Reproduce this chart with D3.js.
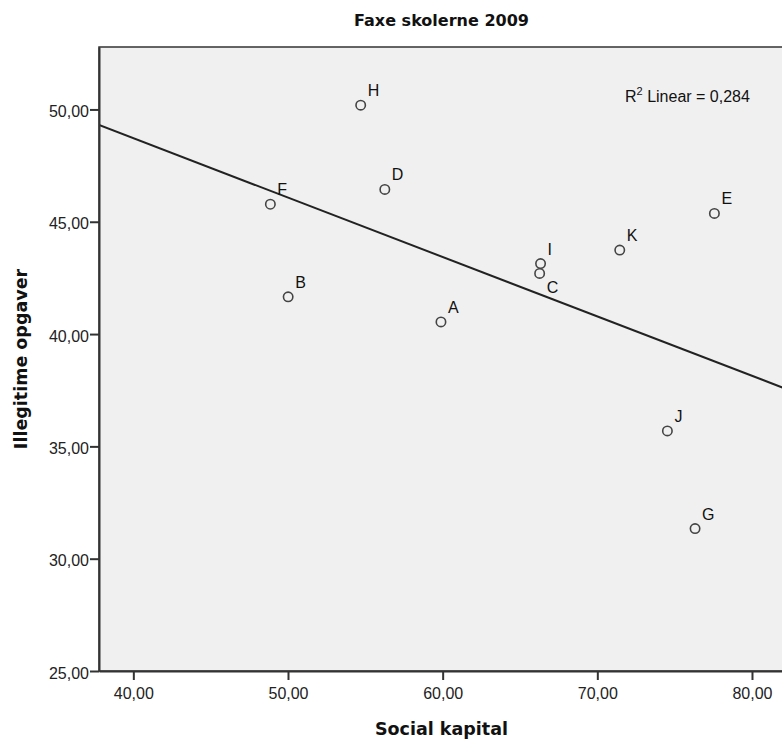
<!DOCTYPE html>
<html>
<head>
<meta charset="utf-8">
<script src="https://cdn.jsdelivr.net/npm/d3@7"></script>
<style>
  body { margin: 0; background: #fff; }
  svg text { font-family: "Liberation Sans", Arial, sans-serif; }
  svg text.title { font-family: "DejaVu Sans", Verdana, sans-serif; font-weight: bold; }
</style>
</head>
<body>
<div id="chart"></div>
<script>
// schools (point labels) with social capital (x) and illegitimate tasks (y)
const schools = ['H', 'D', 'F', 'B', 'A', 'I', 'C', 'K', 'E', 'J', 'G']
const socialKapital = [54.70, 56.26, 48.86, 50.01, 59.89, 66.33, 66.27, 71.45, 77.57, 74.53, 76.32]
const illegitime = [50.19, 46.44, 45.78, 41.66, 40.54, 43.14, 42.70, 43.74, 45.37, 35.69, 31.34]
const xTicks = [40, 50, 60, 70, 80]
const yTicks = [25, 30, 35, 40, 45, 50]
const r2Label = '0,284'

const width = 782
const height = 742
const margin = { top: 47, right: -2, bottom: 71, left: 99 }

const fmt = d => d3.format('.2f')(d).replace('.', ',')

const svg = d3.select('#chart')
  .append('svg')
  .attr('width', width)
  .attr('height', height)

const x = d3.scaleLinear()
  .domain([37.78, 82.07])
  .range([margin.left, width - margin.right])
const y = d3.scaleLinear()
  .domain([25, 52.78])
  .range([height - margin.bottom, margin.top])

const data = schools.map((s, i) => ({ name: s, x: socialKapital[i], y: illegitime[i] }))

// plot background
svg.append('rect')
  .attr('x', x.range()[0])
  .attr('y', y.range()[1])
  .attr('width', x.range()[1] - x.range()[0])
  .attr('height', y.range()[0] - y.range()[1])
  .attr('fill', '#f0f0f0')
  .attr('stroke', '#333')
  .attr('stroke-width', 1.5)

const plot = svg.append('g')
svg.append('clipPath').attr('id', 'clip')
  .append('rect')
  .attr('x', x.range()[0]).attr('y', y.range()[1])
  .attr('width', x.range()[1] - x.range()[0])
  .attr('height', y.range()[0] - y.range()[1])

// least squares fit line
const mx = d3.mean(data, d => d.x)
const my = d3.mean(data, d => d.y)
const slope = d3.sum(data, d => (d.x - mx) * (d.y - my)) / d3.sum(data, d => (d.x - mx) ** 2)
const icpt = my - slope * mx
const [x0, x1] = x.domain()

plot.append('line')
  .attr('clip-path', 'url(#clip)')
  .attr('x1', x(x0)).attr('y1', y(icpt + slope * x0))
  .attr('x2', x(x1)).attr('y2', y(icpt + slope * x1))
  .attr('stroke', '#222')
  .attr('stroke-width', 2)

// axes
const xAxis = d3.axisBottom(x).tickValues(xTicks).tickFormat(fmt).tickSize(9).tickSizeOuter(0)
const yAxis = d3.axisLeft(y).tickValues(yTicks).tickFormat(fmt).tickSize(9).tickSizeOuter(0)

const gx = svg.append('g')
  .attr('transform', `translate(0,${y.range()[0]})`)
  .call(xAxis)
const gy = svg.append('g')
  .attr('transform', `translate(${x.range()[0]},0)`)
  .call(yAxis)

for (const g of [gx, gy]) {
  g.select('.domain').attr('stroke', '#333').attr('stroke-width', 2)
  g.selectAll('.tick line').attr('stroke', '#333').attr('stroke-width', 2)
  g.selectAll('.tick text').attr('font-size', 16).attr('fill', '#222')
    .style('font-family', '"Liberation Sans", Arial, sans-serif')
}
gx.selectAll('.tick text').attr('dy', null).attr('y', 28)
gy.selectAll('.tick text').attr('x', -10).attr('dy', '0.45em')

// points
plot.selectAll('circle')
  .data(data)
  .join('circle')
  .attr('cx', d => x(d.x))
  .attr('cy', d => y(d.y))
  .attr('r', 4.7)
  .attr('fill', 'none')
  .attr('stroke', '#444')
  .attr('stroke-width', 1.6)

plot.selectAll('text.pt')
  .data(data)
  .join('text')
  .attr('class', 'pt')
  .attr('x', d => x(d.x) + 7)
  .attr('y', d => y(d.y) + (d.name === 'C' ? 20 : -9))
  .attr('font-size', 16)
  .attr('fill', '#111')
  .text(d => d.name)

// R squared note
const note = svg.append('text')
  .attr('x', 625)
  .attr('y', 102)
  .attr('font-size', 16)
  .attr('fill', '#111')
note.append('tspan').text('R')
note.append('tspan').attr('font-size', 11).attr('dy', -7).text('2')
note.append('tspan').attr('dy', 7).text(' Linear = ' + r2Label)

// titles
const cx = (x.range()[0] + x.range()[1]) / 2
svg.append('text')
  .attr('class', 'title')
  .attr('x', cx)
  .attr('y', 26)
  .attr('text-anchor', 'middle')
  .attr('font-size', 16)
  .attr('fill', '#111')
  .text('Faxe skolerne 2009')

svg.append('text')
  .attr('class', 'title')
  .attr('x', cx)
  .attr('y', 735)
  .attr('text-anchor', 'middle')
  .attr('font-size', 17.5)
  .attr('fill', '#111')
  .text('Social kapital')

svg.append('text')
  .attr('class', 'title')
  .attr('transform', `translate(27,${(y.range()[0] + y.range()[1]) / 2}) rotate(-90)`)
  .attr('text-anchor', 'middle')
  .attr('font-size', 17.5)
  .attr('fill', '#111')
  .text('Illegitime opgaver')
</script>
</body>
</html>
